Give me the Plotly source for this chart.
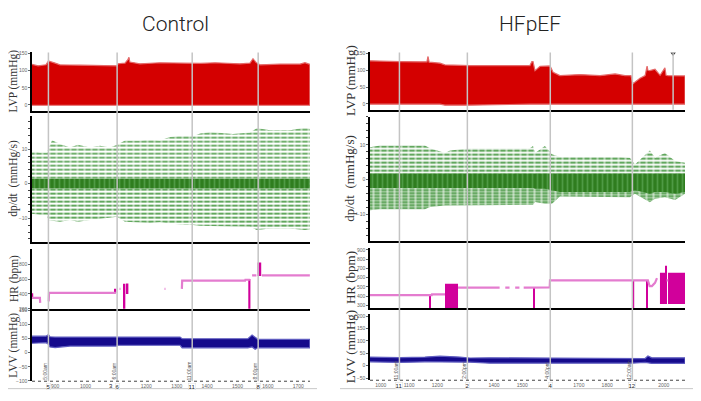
import plotly.graph_objects as go

# ---------------- Control (left) ----------------
ctrl_lvp_x = [824, 844, 870, 878, 900, 916, 982, 1048, 1104, 1107, 1130, 1140, 1143, 1146, 1179, 1245, 1311,
              1377, 1426, 1508, 1541, 1551, 1561, 1574, 1640, 1706, 1722, 1738]
ctrl_lvp_hi = [118, 114, 117, 128, 122, 117, 116, 115, 114, 120, 122, 133, 139, 125, 120, 123, 121,
               121, 123, 120, 122, 135, 124, 117, 119, 119, 123, 118]
ctrl_lvp_lo = [-1, -1, -1, -3, -1, -1, -1, -1, -3, -1, -1, -1, -1, -1, -1, -1, -1,
               -1, -1, -1, -1, -3, -1, -1, -1, -1, -1, -1]

ctrl_dp_x = [824, 850, 873, 878, 890, 916, 949, 975, 1015, 1048, 1081, 1104, 1130, 1179, 1212, 1245, 1278,
             1327, 1354, 1377, 1410, 1485, 1541, 1564, 1607, 1673, 1722, 1738]
ctrl_dp_hi = [9.5, 9, 9, 10, 12.6, 11.5, 10.5, 11.3, 10.5, 11, 10.5, 11.3, 12.5, 12.5, 12.8, 12.5, 13.5,
              14, 13.7, 14.5, 15, 14.4, 14.8, 16.1, 15.5, 15.5, 16.3, 15.9]
ctrl_dp_lo = [-8.7, -9, -9, -10.6, -10.6, -11, -10.5, -11, -10.5, -10, -9.8, -9.6, -11, -11.2, -11.4, -11.2, -11.5,
              -12, -12, -12.2, -12.3, -12.4, -12.5, -13.4, -13, -13, -13.4, -13.2]
ctrl_core_hi = [1.4] * 28
ctrl_core_lo = [-1.4] * 28

ctrl_hr_x = [824, 850, 851, None, 879, 880, 1100, None, 1112, 1115, None, 1260, 1263, None,
             1317, 1318, 1525, 1526, 1541, None, 1548, 1562, None, 1580, 1738]
ctrl_hr_y = [347, 347, 280, None, 300, 413, 413, None, 467, 467, None, 467, 467, None,
             467, 577, 577, 590, 590, None, 648, 650, None, 650, 650]
ctrl_spk_x = [824, 1099, 1128, 1137, 1539, 1572]
ctrl_spk_lo = [340, 413, 200, 400, 200, 640]
ctrl_spk_hi = [410, 470, 537, 540, 600, 821]
ctrl_spk_w = [8, 4, 6, 8, 7, 12]

ctrl_lvv_x = [824, 870, 878, 883, 900, 949, 1104, 1107, 1311, 1318, 1534, 1548, 1558, 1567, 1581, 1738]
ctrl_lvv_hi = [58, 58, 64, 56, 55, 55, 55, 55, 55, 49, 49, 62, 55, 47, 47, 47]
ctrl_lvv_lo = [33, 35, 30, 20, 18, 23, 23, 26, 26, 17, 17, 20, 12, 17, 17, 17]

ctrl_marks = [878, 1104, 1351, 1568]
ctrl_mark_nums = ["5", "6", "11", "8"]
ctrl_mark_times = ["5:00am", "6:00am", "11:00am", "8:00pm"]
ctrl_xticks = [900, 1000, 1200, 1300, 1400, 1500, 1600, 1700]

# ---------------- HFpEF (right) ----------------
hf_lvp_x = [962, 1015, 1068, 1139, 1163, 1167, 1171, 1209, 1227, 1315, 1527, 1534, 1538, 1545, 1563, 1598,
            1609, 1633, 1704, 1775, 1828, 1863, 1884, 1891, 1916, 1934, 1941, 1944, 1951, 1969, 1987,
            2004, 2008, 2015, 2075]
hf_lvp_hi = [128, 126, 126, 125, 125, 141, 124, 121, 116, 114, 114, 126, 126, 99, 112, 113,
             94, 84, 87, 84, 89, 84, 84, 60, 76, 84, 112, 100, 99, 103, 85,
             107, 85, 84, 83]
hf_lvp_lo = [-1, -1, -1, -1, -1, -1, -1, -1, -4, -4, -1, -1, -1, -1, -1, -1,
             -1, -1, -1, -1, -1, -1, -1, -1, -1, -1, -1, -1, -1, -1, -1,
             -1, -1, -1, -1]

hf_dp_x = [962, 997, 1068, 1156, 1174, 1227, 1245, 1315, 1527, 1538, 1545, 1580, 1605, 1633, 1845,
           1880, 1898, 1951, 1969, 2004, 2040, 2075]
hf_dp_hi = [9.3, 9.8, 9.8, 9.8, 9, 7.7, 8.4, 9, 9, 9.7, 7.7, 9.7, 7.3, 6.5, 6.5,
            6.3, 4.4, 8.4, 6.3, 7.7, 5.4, 4.9]
hf_dp_lo = [-8.8, -8.5, -8.5, -8.5, -7.8, -7.4, -7.2, -7.2, -7.2, -7.2, -6.4, -6.9, -6.9, -4.8, -5,
            -5, -4, -6.5, -5.5, -5, -5.8, -4]
hf_core_hi = [1.8] * 22
hf_core_lo = [-2.4, -2.4, -2.4, -2.4, -2.4, -2.4, -2.4, -2.4, -2.4, -2.4, -2.6, -2.6, -3, -3.5, -3.5,
              -3.5, -3, -4, -3.5, -3.5, -4, -3.5]

hf_hr_x = [962, 1180, 1181, 1227, None, 1273, 1420, None, 1440, 1455, None, 1475, 1490, None,
           1505, 1545, 1597, 1598, 1941, 1944, 1950, 1958, 1969, 1976, None, 2010, 2016]
hf_hr_y = [410, 410, 420, 420, None, 491, 491, None, 491, 491, None, 491, 491, None,
           491, 494, 494, 569, 569, 569, 509, 509, 543, 595, None, 569, 569]
hf_spk_x = [1174, 1250, 1543, 1893, 1942, 1997, 2008, 2045]
hf_spk_lo = [270, 270, 270, 270, 270, 314, 314, 314]
hf_spk_hi = [410, 534, 494, 569, 569, 651, 729, 651]
hf_spk_w = [5, 46, 4, 5, 4, 21, 3, 60]

hf_lvv_x = [962, 1068, 1156, 1209, 1280, 1315, 1386, 1598, 1888, 1934, 1944, 1958, 2075]
hf_lvv_hi = [35, 33, 35, 39, 35, 31, 32, 31, 31, 29, 39, 32, 32]
hf_lvv_lo = [15.5, 13, 15.5, 15, 15, 14, 10, 10, 10, 13, 13, 9, 9]

hf_marks = [1066, 1306, 1599, 1889]
hf_extra_mark = 2033
hf_mark_nums = ["11", "2", "4", "12"]
hf_mark_times = ["11:00am", "2:00pm", "4:00pm", "12:00am"]
hf_xticks = [1000, 1100, 1200, 1400, 1500, 1700, 1800, 2000]

# ---------------- figure ----------------
OFF = 8          # page body margin
W, H = 701 - OFF, 401 - OFF


def px_x(p):
    return (p - OFF) / W


def px_y(p):
    return 1 - (p - OFF) / H


RED = "#d40000"
RED_EDGE = "#e46a6a"
GREEN_LIGHT = "#62a75e"
GREEN_DARK = "#2f7d1f"
PINK = "#e47ccf"
MAGENTA = "#d1009b"
NAVY = "#150a8c"
NAVY_EDGE = "#5f5cc0"

fig = go.Figure()


def ax(k):
    return ("x" if k == 1 else f"x{k}"), ("y" if k == 1 else f"y{k}")


def band(k, xs, lo, hi, color, edge=None, ew=0, pattern=None):
    xa, ya = ax(k)
    x = list(xs) + list(xs)[::-1]
    y = list(hi) + list(lo)[::-1]
    kw = dict(x=x, y=y, fill="toself", fillcolor=color, mode="lines",
              line=dict(width=ew, color=edge or color), xaxis=xa, yaxis=ya,
              hoverinfo="skip", showlegend=False)
    if pattern:
        kw["fillpattern"] = pattern
    fig.add_trace(go.Scatter(**kw))


def spikes(k, xs, lo, hi, w):
    xa, ya = ax(k)
    fig.add_trace(go.Bar(x=xs, base=lo, y=[h - l for h, l in zip(hi, lo)], width=w,
                         marker=dict(color=MAGENTA, line=dict(width=0)),
                         xaxis=xa, yaxis=ya, showlegend=False, hoverinfo="skip"))


def hrline(k, xs, ys):
    xa, ya = ax(k)
    fig.add_trace(go.Scatter(x=xs, y=ys, mode="lines", line=dict(color=PINK, width=2.2),
                             connectgaps=False, xaxis=xa, yaxis=ya, showlegend=False, hoverinfo="skip"))


def dashed_band(k, xs, lo, hi, fg, bg, size, solid):
    band(k, xs, lo, hi, "white", fg, 0,
         dict(shape="-", fgcolor=fg, bgcolor=bg, size=size, solidity=solid, fillmode="replace"))
    # white vertical breaks turn the stripes into short dashes
    band(k, xs, lo, hi, "rgba(0,0,0,0)", fg, 0,
         dict(shape="|", fgcolor="white", size=7, solidity=0.3, fillmode="overlay"))


# Control traces
band(1, ctrl_lvp_x, ctrl_lvp_lo, ctrl_lvp_hi, RED, RED_EDGE, 1.2)
dashed_band(2, ctrl_dp_x, [0] * len(ctrl_dp_x), ctrl_dp_hi, GREEN_LIGHT, "white", 4, 0.45)
dashed_band(2, ctrl_dp_x, ctrl_dp_lo, [0] * len(ctrl_dp_x), GREEN_LIGHT, "white", 4, 0.5)
band(2, ctrl_dp_x, ctrl_core_lo, ctrl_core_hi, GREEN_DARK, None, 0,
     dict(shape="|", fgcolor="#4f9a45", bgcolor=GREEN_DARK, size=5, solidity=0.35, fillmode="replace"))
hrline(3, ctrl_hr_x, ctrl_hr_y)
spikes(3, ctrl_spk_x, ctrl_spk_lo, ctrl_spk_hi, ctrl_spk_w)
band(4, ctrl_lvv_x, ctrl_lvv_lo, ctrl_lvv_hi, NAVY, NAVY_EDGE, 1.2)

# HFpEF traces
band(5, hf_lvp_x, hf_lvp_lo, hf_lvp_hi, RED, RED_EDGE, 1.2)
dashed_band(6, hf_dp_x, [0] * len(hf_dp_x), hf_dp_hi, GREEN_LIGHT, "white", 4, 0.55)
dashed_band(6, hf_dp_x, hf_dp_lo, [0] * len(hf_dp_x), "#4e9a4a", "#c4e0c0", 3, 0.6)
band(6, hf_dp_x, hf_core_lo, hf_core_hi, GREEN_DARK, None, 0,
     dict(shape="|", fgcolor="#4f9a45", bgcolor=GREEN_DARK, size=5, solidity=0.35, fillmode="replace"))
hrline(7, hf_hr_x, hf_hr_y)
spikes(7, hf_spk_x, hf_spk_lo, hf_spk_hi, hf_spk_w)
band(8, hf_lvv_x, hf_lvv_lo, hf_lvv_hi, NAVY, NAVY_EDGE, 1.2)
fig.add_trace(go.Scatter(x=[hf_extra_mark], y=[150], mode="markers",
                         marker=dict(symbol="triangle-down", size=5, color="#333"),
                         xaxis="x5", yaxis="y5", showlegend=False, hoverinfo="skip"))

# ---------------- axes ----------------
LX = [px_x(32), px_x(310)]
RX = [px_x(370), px_x(685)]
rows_left = [(50, 109), (114, 242), (249, 310), (311, 383)]
rows_right = [(50, 108), (115, 241), (248, 309), (315, 382)]
yr_left = [[-17, 153], [-16.9, 19.7], [195, 1004], [-101, 150]]
yr_right = [[-17.6, 153], [-17.6, 18.1], [270, 920], [-59, 209]]
yt_left = [[0, 50, 100, 150], [-10, 0, 10], [200, 400, 600, 800], [-100, -50, 0, 50, 100, 150]]
yt_right = [[0, 50, 100, 150], [-10, 0, 10], [300, 400, 500, 600, 700, 800, 900],
            [-50, 0, 50, 100, 150, 200]]
ytitles = ["LVP (mmHg)", "dp/dt  (mmHg/s)", "HR (bpm)", "LVV (mmHg)"]

tickfont = dict(size=5, color="#666", family="Liberation Sans")
layout = {}
for side in range(2):
    rows = rows_left if side == 0 else rows_right
    yr = yr_left if side == 0 else yr_right
    yt = yt_left if side == 0 else yt_right
    xd = LX if side == 0 else RX
    xr = [824, 1738.5] if side == 0 else [962, 2075]
    xt = ctrl_xticks if side == 0 else hf_xticks
    for r in range(4):
        k = side * 4 + r + 1
        xn = "xaxis" if k == 1 else f"xaxis{k}"
        yn = "yaxis" if k == 1 else f"yaxis{k}"
        top, bot = rows[r]
        xa = dict(domain=xd, range=xr, anchor=ax(k)[1], showgrid=False, zeroline=False,
                  fixedrange=True)
        if r < 3:
            xa.update(showline=True, linecolor="black", linewidth=2, showticklabels=False, ticks="")
        else:
            xa.update(showline=False, tickvals=xt, ticks="", tickfont=tickfont, ticklabelstandoff=1)
        ya = dict(domain=[px_y(bot), px_y(top)], range=yr[r], anchor=ax(k)[0], showgrid=False,
                  zeroline=False, showline=True, linecolor="black", linewidth=1.5,
                  tickvals=yt[r], ticks="outside", ticklen=2, tickcolor="#666",
                  tickfont=tickfont, fixedrange=True)
        if r == 1:
            ya["minor"] = dict(dtick=2, ticks="outside", ticklen=2, tickcolor="#444")
        layout[xn] = xa
        layout[yn] = ya

fig.update_layout(**layout)

shapes = []
annotations = []
# vertical marker lines
for side, marks, xref in [(0, ctrl_marks, "x4"), (1, hf_marks, "x8")]:
    rows = rows_left if side == 0 else rows_right
    for m in marks:
        shapes.append(dict(type="line", xref=xref, yref="paper", x0=m, x1=m,
                           y0=px_y(rows[3][1]), y1=px_y(rows[0][0]),
                           line=dict(color="#c4c4c4", width=1.5), layer="above"))
shapes.append(dict(type="line", xref="x5", yref="paper", x0=hf_extra_mark, x1=hf_extra_mark,
                   y0=px_y(108), y1=px_y(50), line=dict(color="#c4c4c4", width=1.5), layer="above"))
# dotted bottom axes
shapes.append(dict(type="line", xref="paper", yref="paper", x0=px_x(32), x1=px_x(310),
                   y0=px_y(383), y1=px_y(383), line=dict(color="#444", width=1, dash="dot")))
shapes.append(dict(type="line", xref="paper", yref="paper", x0=px_x(370), x1=px_x(685),
                   y0=px_y(382), y1=px_y(382), line=dict(color="#444", width=1, dash="dot")))
# light gray base lines
shapes.append(dict(type="line", xref="paper", yref="paper", x0=0, x1=px_x(317),
                   y0=px_y(390.5), y1=px_y(390.5), line=dict(color="#c8c8c8", width=1)))
shapes.append(dict(type="line", xref="paper", yref="paper", x0=px_x(340), x1=1,
                   y0=px_y(390.5), y1=px_y(390.5), line=dict(color="#c8c8c8", width=1)))

# marker labels
for marks, nums, times, xref, ybot in [(ctrl_marks, ctrl_mark_nums, ctrl_mark_times, "x4", 383),
                                        (hf_marks, hf_mark_nums, hf_mark_times, "x8", 382)]:
    for m, n, t in zip(marks, nums, times):
        annotations.append(dict(x=m, y=px_y(ybot - 10), xref=xref, yref="paper", text=t,
                                textangle=-90, showarrow=False, xshift=-3,
                                xanchor="center", yanchor="middle",
                                font=dict(size=5, color="#555", family="Liberation Sans")))
        annotations.append(dict(x=m, y=px_y(ybot + 5), xref=xref, yref="paper", text=n,
                                showarrow=False, bgcolor="white", bordercolor="#ddd", borderwidth=0.5,
                                borderpad=0, xanchor="center", yanchor="middle",
                                font=dict(size=6, color="#222", family="Liberation Sans")))
annotations.append(dict(x=1083, y=px_y(388), xref="x4", yref="paper", text="3", showarrow=False,
                        xanchor="center", yanchor="middle",
                        font=dict(size=6, color="#222", family="Liberation Sans")))

# y titles
for side, rows, xpx, fs in [(0, rows_left, 14, 11.5), (1, rows_right, 350, 13)]:
    for r in range(4):
        top, bot = rows[r]
        annotations.append(dict(x=px_x(xpx), y=px_y((top + bot) / 2), xref="paper", yref="paper",
                                text=ytitles[r], textangle=-90, showarrow=False,
                                xanchor="center", yanchor="middle",
                                font=dict(size=fs, color="#333", family="Liberation Serif")))

# panel titles
annotations.append(dict(x=px_x(175), y=px_y(21), xref="paper", yref="paper", text="Control",
                        showarrow=False, xanchor="center", yanchor="middle",
                        font=dict(size=21, color="#222", family="Roboto", weight=300)))
annotations.append(dict(x=px_x(530), y=px_y(21), xref="paper", yref="paper", text="HFpEF",
                        showarrow=False, xanchor="center", yanchor="middle",
                        font=dict(size=21, color="#222", family="Roboto", weight=300)))

fig.update_layout(width=W, height=H, margin=dict(l=0, r=0, t=0, b=0),
                  paper_bgcolor="white", plot_bgcolor="white", shapes=shapes,
                  annotations=annotations, showlegend=False, barmode="overlay")

fig.write_html("out.html")
